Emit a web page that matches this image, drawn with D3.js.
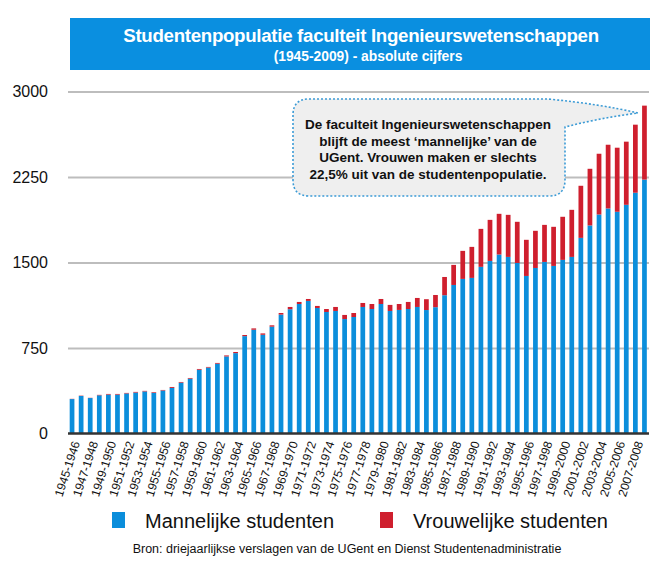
<!DOCTYPE html>
<html>
<head>
<meta charset="utf-8">
<script src="https://cdn.jsdelivr.net/npm/d3@7"></script>
<style>
    body { margin: 0; background: #ffffff; }
    svg { display: block; font-family: "Liberation Sans", Arial, Helvetica, sans-serif; }
</style>
</head>
<body>
<svg id="chart"></svg>
<script>
// academic years (one bar each)
const years = [
    "1945-1946", "1946-1947", "1947-1948", "1948-1949", "1949-1950", "1950-1951", "1951-1952", "1952-1953",
    "1953-1954", "1954-1955", "1955-1956", "1956-1957", "1957-1958", "1958-1959", "1959-1960", "1960-1961",
    "1961-1962", "1962-1963", "1963-1964", "1964-1965", "1965-1966", "1966-1967", "1967-1968", "1968-1969",
    "1969-1970", "1970-1971", "1971-1972", "1972-1973", "1973-1974", "1974-1975", "1975-1976", "1976-1977",
    "1977-1978", "1978-1979", "1979-1980", "1980-1981", "1981-1982", "1982-1983", "1983-1984", "1984-1985",
    "1985-1986", "1986-1987", "1987-1988", "1988-1989", "1989-1990", "1990-1991", "1991-1992", "1992-1993",
    "1993-1994", "1994-1995", "1995-1996", "1996-1997", "1997-1998", "1998-1999", "1999-2000", "2000-2001",
    "2001-2002", "2002-2003", "2003-2004", "2004-2005", "2005-2006", "2006-2007", "2007-2008", "2008-2009"
];

const male = [
    302, 329, 311, 335, 341, 341, 351, 359, 369, 356, 377, 400, 446, 481, 559, 578,
    612, 676, 705, 854, 910, 866, 937, 1043, 1090, 1136, 1163, 1101, 1066, 1075, 1004, 1022,
    1110, 1092, 1136, 1075, 1084, 1092, 1110, 1083, 1108, 1213, 1303, 1356, 1365, 1462,
    1514, 1570, 1549, 1496, 1382, 1452, 1505, 1470, 1523, 1549, 1716, 1825, 1921, 1974,
    1945, 2006, 2112, 2227
];

const female = [
    2, 3, 2, 4, 6, 6, 5, 6, 5, 6, 5, 8, 6, 6, 7, 6,
    7, 9, 10, 10, 12, 12, 12, 14, 20, 18, 17, 18, 26, 35, 36, 35,
    35, 44, 44, 53, 52, 62, 79, 95, 107, 160, 176, 246, 272, 333,
    360, 357, 369, 361, 317, 326, 325, 343, 378, 413, 457, 497, 533, 559,
    562, 554, 597, 649
];

const yTicks = [0, 750, 1500, 2250, 3000];

const seriesNames = ["Mannelijke studenten", "Vrouwelijke studenten"];
const seriesColors = ["#0b8edb", "#cf1f2e"];

const calloutLines = [
    "De faculteit Ingenieurswetenschappen",
    "blijft de meest \u2018mannelijke\u2019 van de",
    "UGent. Vrouwen maken er slechts",
    "22,5% uit van de studentenpopulatie."
];

class StudentChart {
    constructor() {
        this.width = 666;
        this.height = 570;
        this.svg = d3.select("#chart")
            .attr("width", this.width)
            .attr("height", this.height);

        this.x = d3.scaleBand()
            .domain(years)
            .range([67.5, 649])
            .paddingInner(0.48)
            .paddingOuter(0.24);

        this.y = d3.scaleLinear()
            .domain([0, 3000])
            .range([433.5, 91.5]);

        this.rows = years.map((yr, i) => ({ year: yr, male: male[i], female: female[i] }));
        this.render();
    }

    render() {
        this.addTitle();
        this.addGrid();
        this.addBars();
        this.addAxes();
        this.addCallout();
        this.addLegend();
    }

    addTitle() {
        const g = this.svg.append("g");
        g.append("rect")
            .attr("x", 70).attr("y", 18)
            .attr("width", 580).attr("height", 52)
            .attr("fill", "#0a8fe0");
        g.append("text")
            .attr("x", 361).attr("y", 42)
            .attr("text-anchor", "middle")
            .attr("fill", "#ffffff")
            .style("font-size", "18.7px")
            .style("font-weight", "bold")
            .style("letter-spacing", "-0.3px")
            .text("Studentenpopulatie faculteit Ingenieurswetenschappen");
        g.append("text")
            .attr("x", 368).attr("y", 61)
            .attr("text-anchor", "middle")
            .attr("fill", "#ffffff")
            .style("font-size", "13.8px")
            .style("font-weight", "bold")
            .text("(1945-2009) - absolute cijfers");
    }

    addGrid() {
        const grid = this.svg.append("g")
            .attr("transform", "translate(68,0)")
            .call(d3.axisLeft(this.y)
                .tickValues(yTicks.filter(d => d > 0))
                .tickSize(-581)
                .tickFormat(""));
        grid.select(".domain").remove();
        grid.selectAll("line")
            .attr("stroke", "#bdbdbd")
            .attr("stroke-width", 2);
    }

    addBars() {
        const stack = d3.stack().keys(["male", "female"])(this.rows);
        this.svg.append("g")
            .selectAll("g")
            .data(stack)
            .join("g")
            .attr("fill", (d, i) => seriesColors[i])
            .selectAll("rect")
            .data(d => d)
            .join("rect")
            .attr("x", d => this.x(d.data.year))
            .attr("width", this.x.bandwidth())
            .attr("y", d => this.y(d[1]))
            .attr("height", d => this.y(d[0]) - this.y(d[1]));
    }

    addAxes() {
        // y labels
        const yAxis = this.svg.append("g")
            .attr("transform", "translate(48,0)")
            .call(d3.axisLeft(this.y)
                .tickValues(yTicks)
                .tickFormat(d3.format("d"))
                .tickSize(0)
                .tickPadding(0));
        yAxis.select(".domain").remove();
        yAxis.selectAll("text")
            .style("font-family", "'Liberation Sans', Arial, sans-serif")
            .style("font-size", "16px")
            .attr("fill", "#111111");

        // x baseline + rotated labels, every other year
        const xAxis = this.svg.append("g")
            .attr("transform", `translate(0,${this.y(0)})`)
            .call(d3.axisBottom(this.x)
                .tickValues(years.filter((d, i) => i % 2 === 0))
                .tickSize(0)
                .tickPadding(0));
        xAxis.select(".domain")
            .attr("stroke", "#333333")
            .attr("stroke-width", 2.5)
            .attr("d", "M68,0H649");
        xAxis.selectAll("text")
            .style("font-family", "'Liberation Sans', Arial, sans-serif")
            .style("font-size", "12px")
            .attr("fill", "#111111")
            .attr("text-anchor", "end")
            .attr("y", 0)
            .attr("dy", "0.35em")
            .attr("transform", "translate(4,8) rotate(-72)");
    }

    addCallout() {
        const g = this.svg.append("g");
        const x0 = 293, y0 = 99, x1 = 565, y1 = 196, r = 16;
        const p = d3.path();
        p.moveTo(x0 + r, y0);
        p.lineTo(548, y0);
        p.quadraticCurveTo(600, 104, 638, 113);
        p.quadraticCurveTo(600, 118, x1, 127);
        p.lineTo(x1, y1 - r);
        p.quadraticCurveTo(x1, y1, x1 - r, y1);
        p.lineTo(x0 + r, y1);
        p.quadraticCurveTo(x0, y1, x0, y1 - r);
        p.lineTo(x0, y0 + r);
        p.quadraticCurveTo(x0, y0, x0 + r, y0);
        p.closePath();

        g.append("path")
            .attr("d", p.toString())
            .attr("fill", "#efefef")
            .attr("stroke", "#3b9bd6")
            .attr("stroke-width", 1.6)
            .attr("stroke-dasharray", "2,2");

        g.selectAll("text")
            .data(calloutLines)
            .join("text")
            .attr("x", 428)
            .attr("y", (d, i) => 129 + i * 16.5)
            .attr("text-anchor", "middle")
            .attr("fill", "#111111")
            .style("font-size", "13.5px")
            .style("font-weight", "bold")
            .text(d => d);
    }

    addLegend() {
        const items = [
            { x: 112, name: seriesNames[0], color: seriesColors[0] },
            { x: 380, name: seriesNames[1], color: seriesColors[1] }
        ];
        const g = this.svg.append("g");
        items.forEach(item => {
            g.append("rect")
                .attr("x", item.x).attr("y", 512)
                .attr("width", 13).attr("height", 16)
                .attr("fill", item.color);
            g.append("text")
                .attr("x", item.x + 33).attr("y", 528)
                .attr("fill", "#111111")
                .style("font-size", "20px")
                .text(item.name);
        });
        g.append("text")
            .attr("x", 347).attr("y", 553)
            .attr("text-anchor", "middle")
            .attr("fill", "#111111")
            .style("font-size", "12.5px")
            .text("Bron: driejaarlijkse verslagen van de UGent en Dienst Studentenadministratie");
    }
}

document.addEventListener("DOMContentLoaded", () => {
    window.chart = new StudentChart();
});
</script>
</body>
</html>
